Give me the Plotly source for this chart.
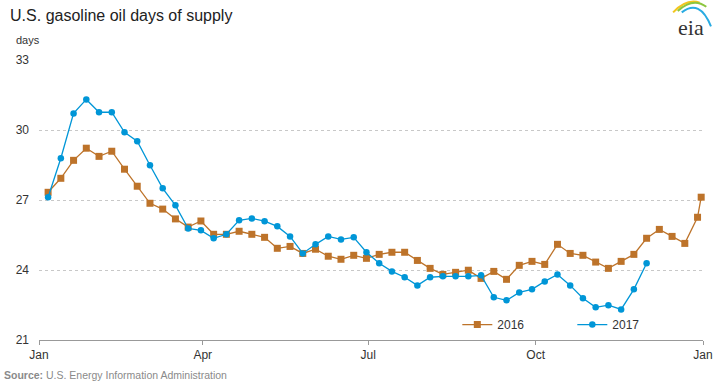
import pandas as pd
import plotly.graph_objects as go

# Weekly positions on a common Jan-Jan axis
weeks = [d.strftime("%Y-%m-%d") for d in pd.date_range("2017-01-06", periods=52, freq="7D")]
dates_2016 = weeks + ["2017-12-31"]
dates_2017 = weeks[:48]

days_2016 = [27.33, 27.93, 28.70, 29.22, 28.87, 29.09, 28.32, 27.59, 26.86, 26.61,
             26.19, 25.84, 26.10, 25.53, 25.53, 25.66, 25.53, 25.40, 24.93, 25.01,
             24.71, 24.89, 24.59, 24.46, 24.63, 24.50, 24.67, 24.76, 24.76, 24.41,
             24.07, 23.81, 23.90, 23.99, 23.64, 23.94, 23.60, 24.20, 24.37, 24.24,
             25.10, 24.71, 24.63, 24.34, 24.07, 24.37, 24.67, 25.36, 25.74, 25.44,
             25.14, 26.26, 27.12]
days_2017 = [27.12, 28.79, 30.71, 31.31, 30.76, 30.76, 29.90, 29.52, 28.49, 27.50,
             26.77, 25.78, 25.70, 25.36, 25.53, 26.13, 26.21, 26.09, 25.87, 25.44,
             24.71, 25.10, 25.44, 25.31, 25.40, 24.76, 24.29, 23.94, 23.69, 23.34,
             23.69, 23.73, 23.73, 23.73, 23.77, 22.83, 22.70, 23.04, 23.17, 23.51,
             23.81, 23.34, 22.79, 22.40, 22.49, 22.31, 23.17, 24.29]

y_ticks = [21, 24, 27, 30, 33]
x_ticks = ["2017-01-01", "2017-04-01", "2017-07-01", "2017-10-01", "2018-01-01"]
x_labels = ["Jan", "Apr", "Jul", "Oct", "Jan"]

C16 = "#bd732a"
C17 = "#0096d7"

fig = go.Figure()
fig.add_trace(go.Scatter(x=dates_2016, y=days_2016, name="2016", mode="lines+markers",
                         line=dict(color=C16, width=1.3),
                         marker=dict(symbol="square", size=7, color=C16),
                         cliponaxis=False))
fig.add_trace(go.Scatter(x=dates_2017, y=days_2017, name="2017", mode="lines+markers",
                         line=dict(color=C17, width=1.3),
                         marker=dict(symbol="circle", size=6.5, color=C17),
                         cliponaxis=False))

narrow = "Liberation Sans Narrow, Arial Narrow, Liberation Sans, Arial, sans-serif"
fig.update_layout(
    width=719, height=384,
    margin=dict(l=39, r=16, t=60, b=44),
    paper_bgcolor="white", plot_bgcolor="white",
    font=dict(family="Liberation Sans, Arial, sans-serif", color="#333333", size=12),
    showlegend=True,
    legend=dict(orientation="h", x=0.63, y=0.055, xanchor="left", yanchor="middle",
                bgcolor="rgba(0,0,0,0)", itemwidth=30, entrywidth=70,
                font=dict(size=12, color="#333333", family="Liberation Sans, Arial, sans-serif")),
    xaxis=dict(type="date", range=["2017-01-01", "2018-01-01"], automargin=False,
               tickvals=x_ticks, ticktext=x_labels, showgrid=False,
               showline=True, linecolor="#999999", linewidth=1,
               ticks="outside", ticklen=4, tickcolor="#999999",
               tickfont=dict(family=narrow, size=12, color="#333333"), zeroline=False),
    yaxis=dict(range=[21, 33], tickvals=y_ticks, showgrid=True, automargin=False,
               gridcolor="#c8c8c8", griddash="dot", gridwidth=1,
               showline=False, zeroline=False, ticks="", ticklabelstandoff=9,
               tickfont=dict(family=narrow, size=12, color="#333333")),
    title=dict(text="U.S. gasoline oil days of supply", x=0.014, xanchor="left",
               y=0.96, yanchor="middle",
               font=dict(size=16, color="#222222", family="Liberation Sans, Arial, sans-serif")),
)

fig.add_annotation(text="days", xref="paper", yref="paper", x=-0.038, y=1.043,
                   xanchor="left", yanchor="bottom", showarrow=False,
                   font=dict(size=11, color="#333333", family=narrow))
fig.add_annotation(text="<b>Source:</b> U.S. Energy Information Administration",
                   xref="paper", yref="paper", x=-0.055, y=-0.095,
                   xanchor="left", yanchor="top", showarrow=False,
                   font=dict(size=10.5, color="#8a8a8a", family=narrow))
# EIA logo approximation
fig.add_annotation(text="eia", xref="paper", yref="paper", x=0.982, y=1.115,
                   xanchor="center", yanchor="middle", showarrow=False,
                   font=dict(size=22, color="#333333", family="Liberation Serif, DejaVu Serif, serif"))
arcs = [("#f2c61f", "M 0.955 1.17 Q 0.975 1.22 0.995 1.205"),
        ("#8cc63f", "M 0.962 1.175 Q 0.985 1.225 1.005 1.19"),
        ("#29abe2", "M 0.968 1.17 Q 0.995 1.22 1.012 1.12")]
for col, path in arcs:
    fig.add_shape(type="path", path=path, xref="paper", yref="paper",
                  line=dict(color=col, width=2))

fig.write_html("out.html", config={"displayModeBar": False},
               post_script="document.body.style.margin='0';document.body.style.overflow='hidden';")
